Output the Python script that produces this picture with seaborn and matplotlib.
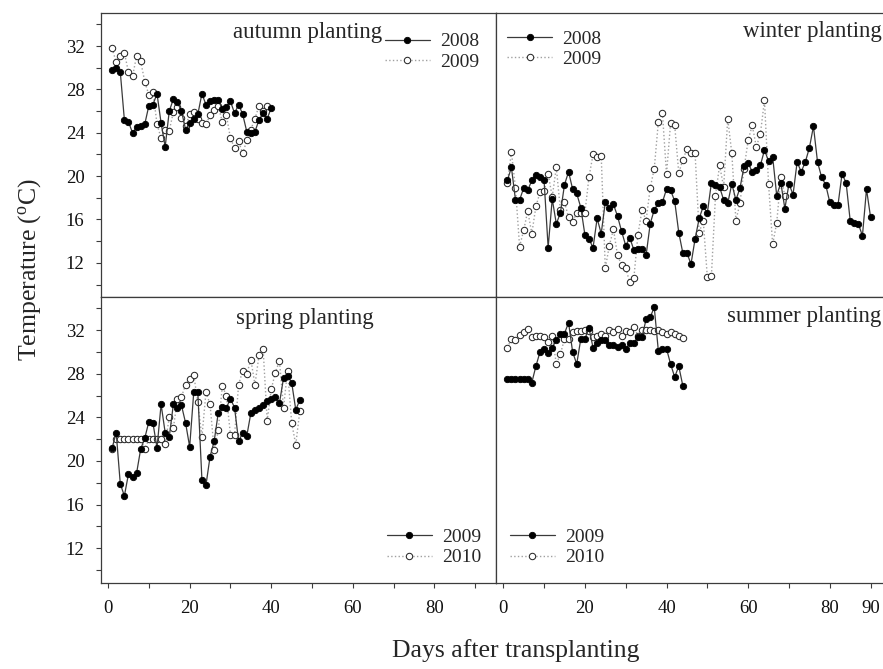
import numpy as np
import matplotlib
matplotlib.use("Agg")
import matplotlib.pyplot as plt
import seaborn as sns
from matplotlib.ticker import FixedLocator

# ---------------- data ----------------
autumn_2008 = [29.8, 30.0, 29.6, 25.2, 25.0, 24.0, 24.5, 24.6, 24.8, 26.5,
               26.6, 27.6, 24.9, 22.7, 26.0, 27.1, 26.8, 26.0, 24.3, 24.9,
               25.3, 25.7, 27.6, 26.6, 26.9, 27.0, 27.0, 26.2, 26.4, 26.9,
               25.8, 26.6, 25.7, 24.1, 24.0, 24.1, 25.2, 25.8, 25.3, 26.3]
autumn_2009 = [31.8, 30.5, 31.1, 31.4, 29.6, 29.2, 31.1, 30.6, 28.7, 27.5,
               27.8, 24.8, 23.5, 24.3, 24.2, 25.9, 26.4, 25.4, 24.6, 25.7,
               25.9, 25.3, 24.9, 24.8, 25.6, 26.1, 26.5, 25.0, 25.6, 23.5,
               22.6, 23.2, 22.1, 23.3, 24.3, 25.3, 26.5, 26.0, 26.5]

winter_2008 = [19.6, 20.8, 17.8, 17.8, 18.9, 18.7, 19.6, 20.1, 19.9, 19.6,
               13.4, 17.9, 15.6, 16.6, 19.2, 20.4, 18.8, 18.4, 17.1, 14.6,
               14.2, 13.4, 16.1, 14.7, 17.6, 17.1, 17.4, 16.3, 14.9, 13.6,
               14.3, 13.2, 13.3, 13.3, 12.7, 15.6, 16.9, 17.5, 17.6, 18.8,
               18.7, 17.7, 14.8, 12.9, 12.9, 11.9, 14.2, 16.1, 17.2, 16.6,
               19.4, 19.2, 19.0, 17.8, 17.5, 19.3, 17.8, 18.9, 20.9, 21.2,
               20.4, 20.6, 21.0, 22.4, 21.4, 21.8, 18.2, 19.4, 17.0, 19.3,
               18.3, 21.3, 20.4, 21.3, 22.6, 24.6, 21.3, 19.9, 19.2, 17.6,
               17.3, 17.3, 20.2, 19.4, 15.9, 15.7, 15.6, 14.5, 18.8, 16.2]
winter_2009 = [19.4, 22.2, 18.9, 13.5, 15.0, 16.8, 14.7, 17.2, 18.5, 18.6,
               20.2, 18.1, 20.8, 16.9, 17.6, 16.2, 15.8, 16.6, 16.6, 16.6,
               19.9, 22.0, 21.8, 21.9, 11.5, 13.6, 15.1, 12.7, 11.8, 11.5,
               10.2, 10.6, 14.6, 16.9, 15.9, 18.9, 20.7, 25.0, 25.8, 20.2,
               24.9, 24.7, 20.3, 21.5, 22.5, 22.1, 22.1, 14.8, 15.9, 10.7,
               10.8, 18.2, 21.0, 19.0, 25.3, 22.1, 15.9, 17.5, 20.7, 23.3,
               24.7, 22.7, 23.9, 27.0, 19.3, 13.7, 15.7, 19.9, 18.2]

spring_2009 = [21.2, 22.6, 17.9, 16.8, 18.8, 18.5, 18.9, 21.1, 22.1, 23.6,
               23.5, 21.2, 25.2, 22.6, 22.2, 25.2, 24.9, 25.1, 23.5, 21.3,
               26.3, 26.3, 18.3, 17.8, 20.4, 21.8, 24.4, 25.0, 24.9, 25.7,
               24.9, 21.8, 22.6, 22.3, 24.4, 24.7, 24.9, 25.1, 25.5, 25.7,
               25.9, 25.3, 27.6, 27.8, 27.2, 24.7, 25.6]
spring_2010 = [21.1, 22.0, 22.0, 22.0, 22.0, 22.0, 22.0, 22.0, 21.1, 22.0,
               22.0, 22.0, 22.0, 21.6, 24.0, 23.0, 25.7, 25.9, 27.0, 27.5,
               27.9, 25.4, 22.2, 26.3, 25.2, 21.0, 22.8, 26.9, 26.0, 22.4,
               22.4, 27.0, 28.3, 28.0, 29.3, 27.0, 29.7, 30.3, 23.7, 26.6,
               28.1, 29.2, 24.9, 28.3, 23.5, 21.5, 24.6]

summer_2009 = [27.5, 27.5, 27.5, 27.5, 27.5, 27.5, 27.2, 28.7, 30.0, 30.3,
               29.9, 30.4, 31.1, 31.7, 31.7, 32.7, 30.0, 28.9, 31.2, 31.2,
               32.2, 30.4, 30.8, 31.1, 31.1, 30.6, 30.6, 30.5, 30.6, 30.3,
               30.8, 30.8, 31.4, 31.4, 33.0, 33.2, 34.1, 30.1, 30.3, 30.3,
               28.9, 27.7, 28.7, 26.9]
summer_2010 = [30.4, 31.2, 31.1, 31.6, 31.8, 32.1, 31.4, 31.5, 31.5, 31.4,
               30.9, 31.5, 28.9, 29.8, 31.2, 31.2, 31.8, 31.9, 31.9, 32.0,
               31.9, 31.4, 31.5, 31.7, 31.5, 32.0, 31.8, 32.1, 31.5, 31.9,
               31.8, 32.3, 31.5, 32.0, 32.0, 32.0, 31.9, 32.0, 31.8, 31.7,
               31.8, 31.7, 31.5, 31.3]

panel_titles = ["autumn planting", "winter planting", "spring planting", "summer planting"]
years_top = ["2008", "2009"]
years_bottom = ["2009", "2010"]
y_ticks = [12, 16, 20, 24, 28, 32]
x_ticks_left = [0, 20, 40, 60, 80]
x_ticks_right = [0, 20, 40, 60, 80, 90]

# ---------------- style ----------------
sns.set_style("ticks")
plt.rcParams["font.family"] = ["Liberation Serif", "DejaVu Serif"]
plt.rcParams["mathtext.fontset"] = "custom"
plt.rcParams["mathtext.rm"] = "Liberation Serif"
plt.rcParams["mathtext.it"] = "Liberation Serif:italic"

SPINE = "#3c3c3c"
SOLID = "#3a3a3a"
DOT = "#a0a0a0"

W, H = 883, 669
fig = plt.figure(figsize=(W / 100, H / 100), dpi=100)


def add_ax(x0, y0, x1, y1):
    return fig.add_axes([x0 / W, 1 - y1 / H, (x1 - x0) / W, (y1 - y0) / H])


ax_aut = add_ax(100.5, 13, 495.7, 297)
ax_win = add_ax(495.7, 13, 891, 297)
ax_spr = add_ax(100.5, 297, 495.7, 582.5)
ax_sum = add_ax(495.7, 297, 891, 582.5)


def draw(ax, s_filled, s_open, labels):
    d1 = np.arange(1, len(s_filled) + 1)
    d2 = np.arange(1, len(s_open) + 1)
    sns.lineplot(x=d2, y=s_open, ax=ax, color=DOT, lw=1.0, linestyle=":",
                 marker="o", markersize=4.6, markerfacecolor="white",
                 markeredgecolor="#2a2a2a", markeredgewidth=0.75,
                 label=labels[1], zorder=2)
    sns.lineplot(x=d1, y=s_filled, ax=ax, color=SOLID, lw=0.9,
                 marker="o", markersize=4.6, markerfacecolor="black",
                 markeredgecolor="black", markeredgewidth=0.6,
                 label=labels[0], zorder=3)


draw(ax_aut, autumn_2008, autumn_2009, years_top)
draw(ax_win, winter_2008, winter_2009, years_top)
draw(ax_spr, spring_2009, spring_2010, years_bottom)
draw(ax_sum, summer_2009, summer_2010, years_bottom)

for ax in (ax_aut, ax_win, ax_spr, ax_sum):
    ax.set_xlim(-1.85, 95.0)
    ax.set_ylim(8.85, 35.05)
    ax.set_xlabel("")
    ax.set_ylabel("")
    for sp in ax.spines.values():
        sp.set_visible(True)
        sp.set_color(SPINE)
        sp.set_linewidth(0.9)
    ax.tick_params(which="both", direction="out", length=3.5, width=0.8,
                   color=SPINE, labelsize=13.5, labelcolor="#111111")

# y ticks on left panels
for ax in (ax_aut, ax_spr):
    ax.yaxis.set_major_locator(FixedLocator(y_ticks))
    ax.yaxis.set_minor_locator(FixedLocator([10, 14, 18, 22, 26, 30, 34]))
    ax.tick_params(axis="y", which="both", left=True, pad=8)
for ax in (ax_win, ax_sum):
    ax.tick_params(axis="y", which="both", left=False, labelleft=False)
    ax.set_yticks([])

# x ticks only on bottom panels
for ax in (ax_aut, ax_win):
    ax.set_xticks([])
    ax.tick_params(axis="x", which="both", bottom=False, labelbottom=False)
ax_spr.xaxis.set_major_locator(FixedLocator(x_ticks_left))
ax_spr.xaxis.set_minor_locator(FixedLocator([10, 30, 50, 70, 90]))
ax_sum.xaxis.set_major_locator(FixedLocator(x_ticks_right))
ax_sum.xaxis.set_minor_locator(FixedLocator([10, 30, 50, 70]))
for ax in (ax_spr, ax_sum):
    ax.tick_params(axis="x", which="both", bottom=True, pad=9)

# panel titles
ax_aut.text(0.712, 0.93, panel_titles[0], transform=ax_aut.transAxes,
            ha="right", va="center", fontsize=16.5)
ax_win.text(0.976, 0.935, panel_titles[1], transform=ax_win.transAxes,
            ha="right", va="center", fontsize=16.5)
ax_spr.text(0.516, 0.924, panel_titles[2], transform=ax_spr.transAxes,
            ha="center", va="center", fontsize=16.5)
ax_sum.text(0.976, 0.93, panel_titles[3], transform=ax_sum.transAxes,
            ha="right", va="center", fontsize=16.5)

# legends
leg_kw = dict(frameon=False, fontsize=14, handlelength=2.3, handletextpad=0.55,
              labelspacing=0.15, borderpad=0, borderaxespad=0, loc="upper left")


def legend(ax, anchor):
    h, l = ax.get_legend_handles_labels()
    order = [l.index(x) for x in sorted(l)]
    ax.legend([h[i] for i in order], [l[i] for i in order],
              bbox_to_anchor=anchor, **leg_kw)


legend(ax_aut, (0.72, 0.93))
legend(ax_win, (0.029, 0.94))
legend(ax_spr, (0.725, 0.19))
legend(ax_sum, (0.036, 0.19))

fig.text(30 / W, 1 - 270 / H, r"Temperature ($^{\rm o}$C)", rotation=90,
         ha="center", va="center", fontsize=18.5)
fig.text(516 / W, 1 - 651 / H, "Days after transplanting",
         ha="center", va="center", fontsize=18.5)

fig.savefig("out.png", dpi=100)
